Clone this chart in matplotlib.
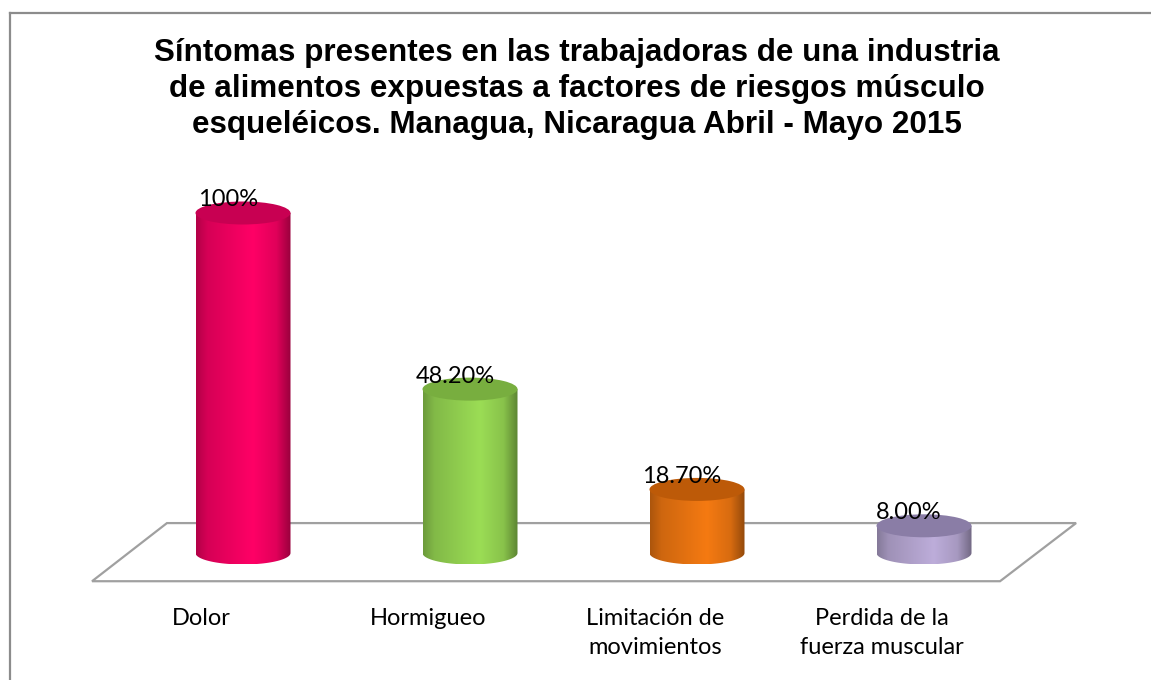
import numpy as np
import matplotlib
matplotlib.use("Agg")
import matplotlib.pyplot as plt
from matplotlib.patches import Ellipse, Polygon
from matplotlib.lines import Line2D
from matplotlib.colors import to_rgb

# Datos del gráfico
categorias = ["Dolor", "Hormigueo", "Limitación de\nmovimientos", "Perdida de la\nfuerza muscular"]
valores = [100.0, 48.2, 18.7, 8.0]
etiquetas = ["100%", "48.20%", "18.70%", "8.00%"]
colores = ["#FF0066", "#9BDD55", "#F57A12", "#BDADDA"]
colores_tapa = ["#C80052", "#78AE3F", "#BD5A08", "#8A7DA6"]

titulo = ("Síntomas presentes en las trabajadoras de una industria\n"
          "de alimentos expuestas a factores de riesgos músculo\n"
          "esqueléicos. Managua, Nicaragua Abril - Mayo 2015")

W, H = 1151, 680
fig = plt.figure(figsize=(W / 100, H / 100), dpi=100)
fig.patch.set_facecolor("white")

# marco exterior
borde = "#8C8C8C"
fig.add_artist(Line2D([9.5 / W, 9.5 / W], [0, 1 - 13 / H], color=borde, lw=1.6))
fig.add_artist(Line2D([9.5 / W, 1], [1 - 13 / H, 1 - 13 / H], color=borde, lw=1.6))

# ejes de las barras: x = índice de categoría, y = porcentaje
px_x = 908 / 4.0      # pixeles por categoría
px_y = 340 / 100.0    # pixeles por punto porcentual
y_min = -15.0
ax = fig.add_axes([129.5 / W, 1 - (553 - y_min * px_y) / H, 908 / W, (100 - y_min) * px_y / H])
ax.axis("off")

ancho = 95 / px_x
eh = 11.5 / px_y      # semi-altura de las elipses

# piso en perspectiva
piso_x = [-0.335, 3.67, 3.335, -0.665]
piso_y = [8.8, 8.8, -8.3, -8.3]
ax.add_patch(Polygon(list(zip(piso_x, piso_y)), closed=True, fill=False,
                     edgecolor="#A0A0A0", lw=1.6, clip_on=False, zorder=1))

# perfil de sombreado del cilindro
t_pts = [0.0, 0.12, 0.6, 0.85, 1.0]
s_pts = [0.70, 0.84, 1.0, 0.88, 0.60]
t = np.linspace(0, 1, 200)
sombra = np.interp(t, t_pts, s_pts)

for i, (v, c, ct, lab) in enumerate(zip(valores, colores, colores_tapa, etiquetas)):
    x0, x1 = i - ancho / 2, i + ancho / 2
    # silueta lateral: rectángulo + media elipse inferior
    ang = np.linspace(0, np.pi, 60)
    bx = i + (ancho / 2) * np.cos(ang)
    by = -eh * np.sin(ang)
    pts = [(x0, v), (x1, v)] + list(zip(bx, by)) + [(x0, v)]
    lado = Polygon(pts, closed=True, facecolor="none", edgecolor="none",
                   transform=ax.transData)
    ax.add_patch(lado)
    rgb = np.array(to_rgb(c))
    img = (sombra[None, :, None] * rgb[None, None, :]).clip(0, 1)
    im = ax.imshow(img, extent=[x0, x1, -eh, v], aspect="auto",
                   interpolation="bilinear", zorder=3)
    im.set_clip_path(lado)
    # tapa superior
    ax.add_patch(Ellipse((i, v), ancho, 2 * eh, facecolor=ct, edgecolor="none",
                         zorder=4, clip_on=False))
    # etiqueta de datos
    ax.text(i - 15 / px_x, v + 6.5 / px_y, lab, ha="center", va="baseline",
            fontsize=17, family="Lato", color="black", zorder=5, clip_on=False)
    # etiqueta de categoría
    ax.text(i - 42 / px_x, -55 / px_y, categorias[i], ha="center", va="top",
            fontsize=17, family="Lato", color="black", linespacing=1.45,
            clip_on=False)

ax.set_xlim(-0.5, 3.5)
ax.set_ylim(y_min, 100)

fig.text(577 / W, 1 - 38 / H, titulo, ha="center", va="top", fontsize=22.6,
         fontweight="bold", family="Liberation Sans", linespacing=1.25)

fig.savefig("out.png", dpi=100)
